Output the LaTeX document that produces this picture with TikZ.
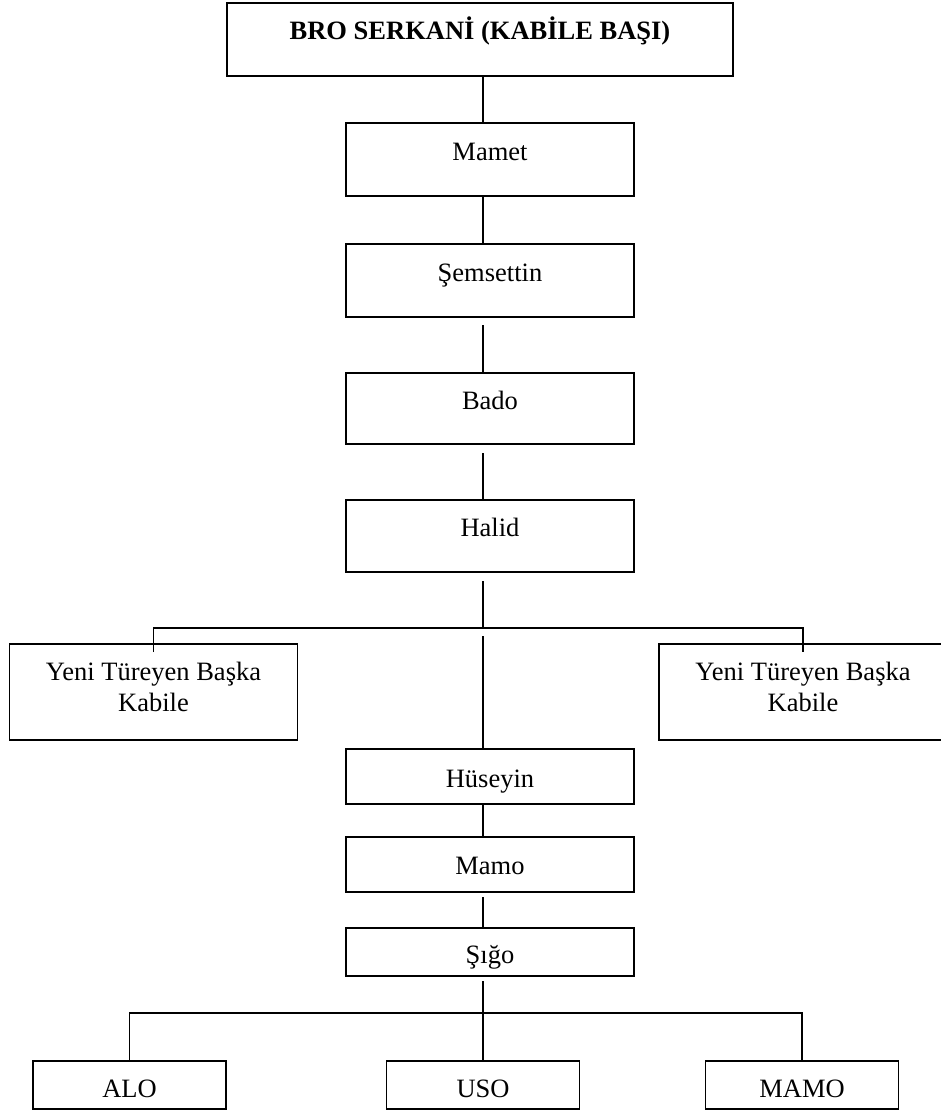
\documentclass[tikz,border=0pt]{standalone}
\usepackage{fontspec}
\setmainfont{Liberation Serif}
\usetikzlibrary{calc}
\begin{document}
\begin{tikzpicture}[x=1pt,y=-1pt,
  famBox/.style={draw, line width=1.7pt, inner sep=0pt, outer sep=0pt,
    minimum width=288pt, text height=24pt, text depth=#1,
    font=\fontsize{26.5}{31.8}\selectfont},
  famBox/.default=22pt,
  link/.style={line width=1.3pt}]
\useasboundingbox (0,0) rectangle (940,1110);
\coordinate (ax) at (483,0);
% boxes
\node[famBox=23pt, minimum width=506pt, minimum height=73pt,
  font=\fontsize{26.5}{31.8}\selectfont\bfseries] (head) at (480,39.5) {BRO SERKANİ (KABİLE BAŞI)};
\node[famBox=21.6pt, minimum height=73pt] (mamet) at (490,159.5) {Mamet};
\node[famBox=23pt, minimum height=73pt] (sem) at (490,280.5) {Şemsettin};
\node[famBox=22.4pt, minimum height=71pt] (bado) at (490,408.5) {Bado};
\node[famBox=22.6pt, minimum height=72pt] (halid) at (490,536) {Halid};
\node[famBox=48pt, minimum height=96pt] (left) at (153.5,692)
  {\begin{tabular}[t]{@{}c@{}}Yeni Türeyen Başka\\Kabile\end{tabular}};
\node[famBox=48pt, minimum height=96pt] (right) at (803,692)
  {\begin{tabular}[t]{@{}c@{}}Yeni Türeyen Başka\\Kabile\end{tabular}};
\node[famBox=2.4pt, minimum height=55pt] (hus) at (490,776.5) {Hüseyin};
\node[famBox=5pt, minimum height=55pt] (mamo) at (490,864.5) {Mamo};
\node[famBox=1.4pt, minimum height=48pt] (sigo) at (490,952) {Şığo};
\node[famBox=0pt, minimum width=193pt, minimum height=48pt] (alo) at (129.5,1085) {ALO};
\node[famBox=0pt, minimum width=193pt, minimum height=48pt] (uso) at (483,1085) {USO};
\node[famBox=0pt, minimum width=193pt, minimum height=48pt] (mamoB) at (802,1085) {MAMO};
% junctions
\coordinate (split) at (483,628);
\coordinate (splitB) at (483,1013);
% connectors
\draw[link] (ax |- head.south) -- (ax |- mamet.north);
\draw[link] (ax |- mamet.south) -- (ax |- sem.north);
\draw[link] ($(ax |- sem.south)+(0,8)$) -- (ax |- bado.north);
\draw[link] ($(ax |- bado.south)+(0,9)$) -- (ax |- halid.north);
\draw[link] ($(ax |- halid.south)+(0,9)$) -- (split);
\draw[link] ($(left.north)+(0,8)$) |- (split) -| ($(right.north)+(0,8)$);
\draw[link] ($(split)+(0,8)$) -- (ax |- hus.north);
\draw[link] (ax |- hus.south) -- (ax |- mamo.north);
\draw[link] ($(ax |- mamo.south)+(0,5)$) -- (ax |- sigo.north);
\draw[link] ($(ax |- sigo.south)+(0,5)$) -- (splitB);
\draw[link] (alo.north) |- (splitB) -| (mamoB.north);
\draw[link] (uso.north) -- (splitB);
\end{tikzpicture}
\end{document}
